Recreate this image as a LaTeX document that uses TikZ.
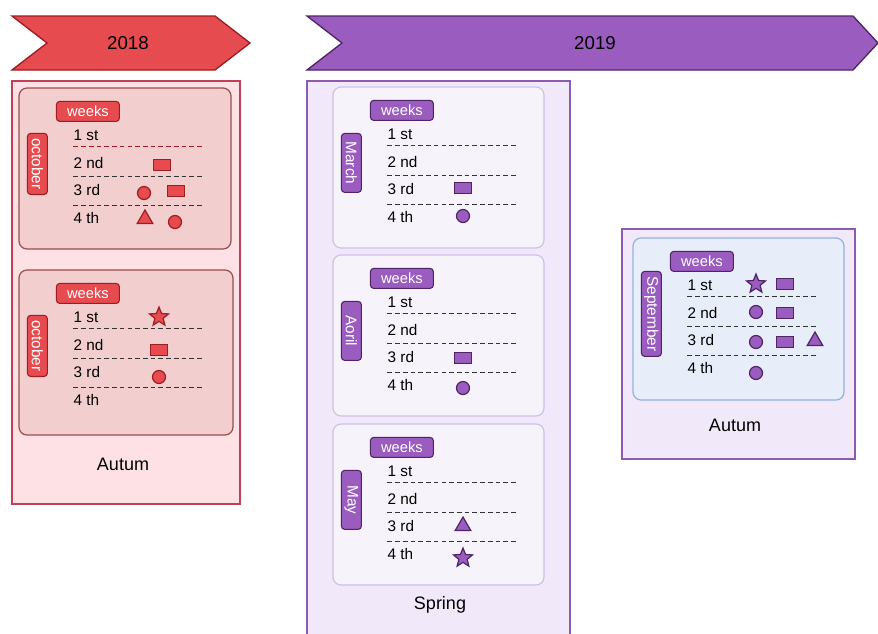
\documentclass[tikz,border=0pt]{standalone}
\usepackage{fontspec}
\setmainfont{Liberation Sans}
\usetikzlibrary{shapes.geometric}
\definecolor{redfill}{HTML}{E54B4F}
\definecolor{reddark}{HTML}{9E1C22}
\definecolor{redbox}{HTML}{FDE1E5}
\definecolor{redboxline}{HTML}{C0405A}
\definecolor{redpanel}{HTML}{F2CECE}
\definecolor{redpanelline}{HTML}{9A4E4E}
\definecolor{purfill}{HTML}{9B5CC0}
\definecolor{purdark}{HTML}{4E2466}
\definecolor{purbox}{HTML}{F1E9F9}
\definecolor{purboxline}{HTML}{8C5AAE}
\definecolor{purpanel}{HTML}{F6F3FA}
\definecolor{purpanelline}{HTML}{CBC2EA}
\definecolor{bluepanel}{HTML}{E7EEFA}
\definecolor{bluepanelline}{HTML}{92B2DF}
\tikzset{
	yearred/.style={draw=reddark, fill=redfill, line width=1pt},
	yearpur/.style={draw=purdark, fill=purfill, line width=1pt},
	yeartext/.style={font=\fontsize{14}{16}\selectfont},
	seasonred/.style={draw=redboxline, fill=redbox, line width=1.1pt},
	seasonpur/.style={draw=purboxline, fill=purbox, line width=1.1pt},
	seasontext/.style={font=\fontsize{13.5}{16}\selectfont},
	panelred/.style={draw=redpanelline, fill=redpanel, line width=0.9pt, rounded corners=6pt},
	panelpur/.style={draw=purpanelline, fill=purpanel, line width=0.9pt, rounded corners=6pt},
	panelblue/.style={draw=bluepanelline, fill=bluepanel, line width=0.9pt, rounded corners=6pt},
	tagred/.style={rectangle, rounded corners=2.5pt, draw=reddark, fill=redfill, text=white, line width=0.8pt},
	tagpur/.style={rectangle, rounded corners=2.5pt, draw=purdark, fill=purfill, text=white, line width=0.8pt},
	weekstag/.style={minimum width=47.25pt, minimum height=15pt, inner sep=0pt, font=\fontsize{11}{13}\selectfont},
	monthtag/.style={rotate=-90, minimum width=44.25pt, minimum height=15pt, inner xsep=3.75pt, inner ysep=0pt, font=\fontsize{11.5}{13}\selectfont},
	rowtext/.style={font=\fontsize{11.5}{13}\selectfont, inner sep=0pt, anchor=west},
	weekline/.style={dash pattern=on 3.5pt off 2.3pt, line width=1pt, draw=black!80},
	symred/.style={draw=reddark, fill=redfill, line width=0.9pt, inner sep=0pt},
	sympur/.style={draw=purdark, fill=purfill, line width=0.9pt, inner sep=0pt},
	boxsym/.style={rectangle, minimum width=12.75pt, minimum height=8pt},
	dotsym/.style={circle, minimum size=9.75pt},
	trisym/.style={regular polygon, regular polygon sides=3, minimum size=13.5pt},
	starsym/.style={star, star points=5, star point ratio=2.3, minimum size=15pt}
}

\begin{document}
\begin{tikzpicture}[x=0.75pt, y=-0.75pt]
	\clip (0,0) rectangle (878,633);
	
	% Years
	\draw [yearred] (12,16) -- (215,16) -- (250,43) -- (215,70) -- (12,70) -- (47,43) -- cycle;
	\draw [yearpur] (307,16) -- (853,16) -- (878,43) -- (853,70) -- (307,70) -- (342,43) -- cycle;
	\node (y2018) [yeartext] at (128,43) {2018};
	\node (y2019) [yeartext] at (595,43) {2019};
	
	% Seasons
	\draw [seasonred] (12,81) rectangle (240,504);
	\draw [seasonpur] (307,81) rectangle (570,640);
	\draw [seasonpur] (622,229) rectangle (855,459);
	\node (aut18) [seasontext] at (123,464) {Autum};
	\node (spr19) [seasontext] at (440,605) {Spring};
	\node (aut19) [seasontext] at (735,425) {Autum};
	
	% Months
	\foreach \n/\x/\y/\w/\h/\m/\ps/\ts/\fc in {
		octA/19/88/212/161/october/panelred/tagred/reddark,
		octB/19/270/214/165/october/panelred/tagred/black!80,
		mar/333/87/211/161/March/panelpur/tagpur/purdark,
		apr/333/255/211/161/Aoril/panelpur/tagpur/black!80,
		may/333/424/211/161/May/panelpur/tagpur/black!80,
		sep/633/238/211/162/September/panelblue/tagpur/black!80}{
		\node (\n) [\ps, minimum width=\w*0.75pt, minimum height=\h*0.75pt, inner sep=0pt] at (\x+\w/2,\y+\h/2) {};
		\node (\n-weeks) [\ts, weekstag] at ([shift={(69.5,24)}]\n.north west) {weeks};
		\node (\n-month) [\ts, monthtag] at ([shift={(19,76.5)}]\n.north west) {\m};
		\foreach \r/\lab in {1/1 st,2/2 nd,3/3 rd,4/4 th}
			\node (\n-w\r) [rowtext] at ([shift={(55,20.5+27.5*\r)}]\n.north west) {\lab};
		\draw [weekline, draw=\fc] ([shift={(55,59)}]\n.north west) -- ++(131,0);
		\foreach \d in {89,118}
			\draw [weekline] ([shift={(55,\d)}]\n.north west) -- ++(131,0);
	}
	
	% Marks
	\node (octA-a) [symred, boxsym] at (162,165) {};
	\node (octA-b) [symred, dotsym] at (144,193) {};
	\node (octA-c) [symred, boxsym] at (176,191) {};
	\node (octA-d) [symred, trisym] at (145,219) {};
	\node (octA-e) [symred, dotsym] at (175,222) {};
	\node (octB-a) [symred, starsym] at (159,317) {};
	\node (octB-b) [symred, boxsym] at (159,350) {};
	\node (octB-c) [symred, dotsym] at (159,377) {};
	\node (mar-a) [sympur, boxsym] at (463,188) {};
	\node (mar-b) [sympur, dotsym] at (463,216) {};
	\node (apr-a) [sympur, boxsym] at (463,358) {};
	\node (apr-b) [sympur, dotsym] at (463,388) {};
	\node (may-a) [sympur, trisym] at (463,526) {};
	\node (may-b) [sympur, starsym] at (463,558) {};
	\node (sep-a) [sympur, starsym] at (756,284) {};
	\node (sep-b) [sympur, boxsym] at (785,284) {};
	\node (sep-c) [sympur, dotsym] at (756,312) {};
	\node (sep-d) [sympur, boxsym] at (785,313) {};
	\node (sep-e) [sympur, dotsym] at (756,342) {};
	\node (sep-f) [sympur, boxsym] at (785,342) {};
	\node (sep-g) [sympur, trisym] at (815,341) {};
	\node (sep-h) [sympur, dotsym] at (756,373) {};
	
\end{tikzpicture}
\end{document}
